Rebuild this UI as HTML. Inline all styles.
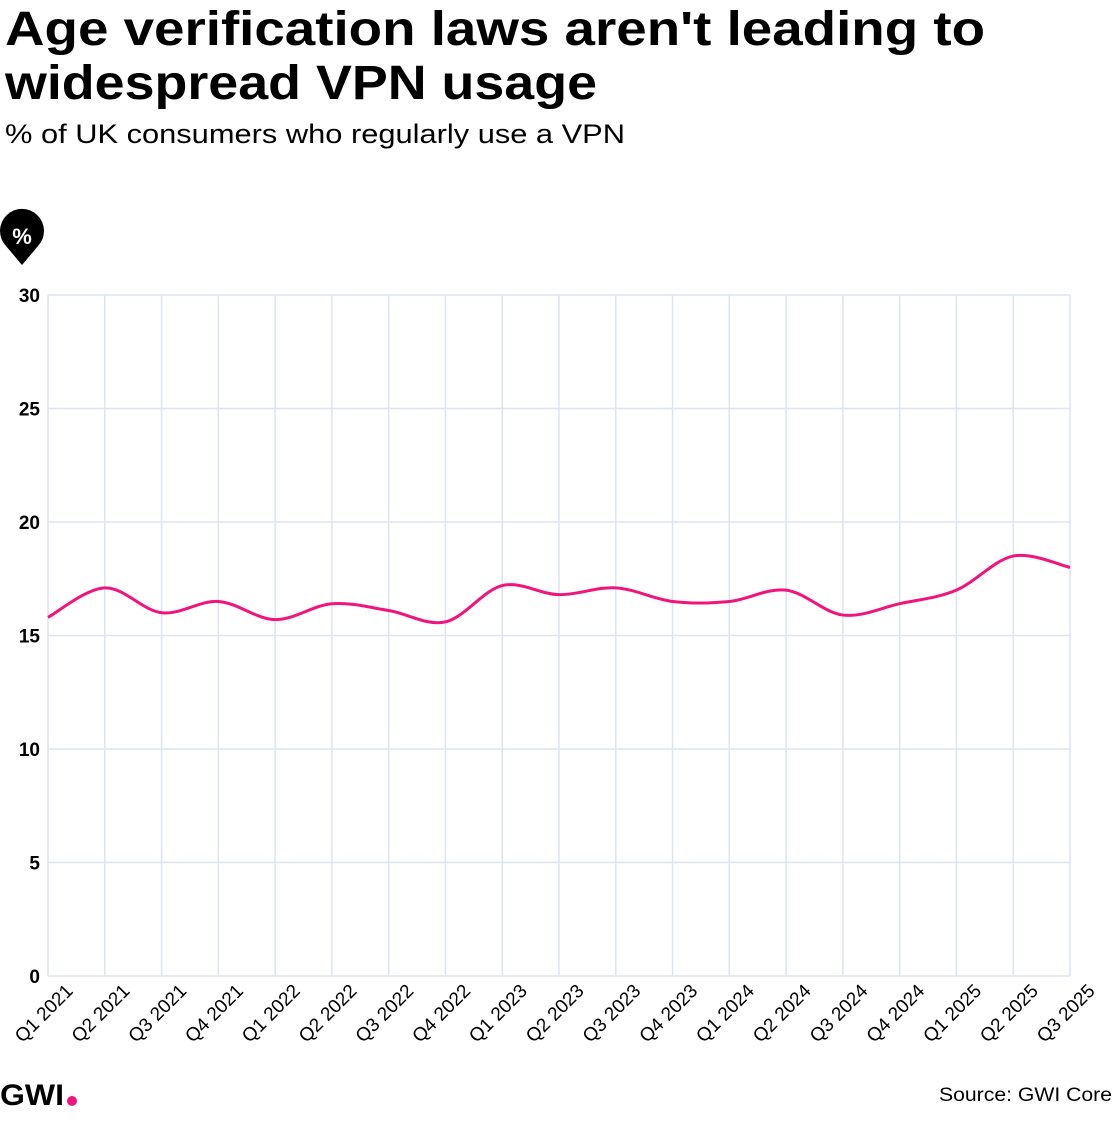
<!DOCTYPE html>
<html><head><meta charset="utf-8"><style>
body{margin:0;background:#fff;width:1120px;height:1120px;overflow:hidden;font-family:"Liberation Sans",sans-serif}
</style></head><body>
<svg width="1120" height="1120" xmlns="http://www.w3.org/2000/svg" font-family="Liberation Sans, sans-serif">
<text x="5" y="45" font-size="48" font-weight="bold" fill="#000" textLength="980" lengthAdjust="spacingAndGlyphs">Age verification laws aren't leading to</text>
<text x="5" y="99" font-size="48" font-weight="bold" fill="#000" textLength="592" lengthAdjust="spacingAndGlyphs">widespread VPN usage</text>
<text x="5" y="143" font-size="27" fill="#000" textLength="620" lengthAdjust="spacingAndGlyphs">% of UK consumers who regularly use a VPN</text>
<path d="M22,265 L6,246 A22,22 0 1 1 38,246 Z" fill="#000"/>
<text x="22" y="244" font-size="22" font-weight="bold" fill="#fff" text-anchor="middle">%</text>
<g id="grid" stroke="#dde3f2" stroke-width="1.5" fill="none"></g>
<g id="ylab" font-size="19" font-weight="bold" text-anchor="end"></g>
<g id="xlab" font-size="19"></g>
<path id="line" fill="none" stroke="#f0147c" stroke-width="3"/>
<text x="0" y="1105" font-size="30" font-weight="bold" textLength="64" lengthAdjust="spacingAndGlyphs">GWI</text>
<circle cx="72" cy="1101" r="5" fill="#f0147c"/>
<text x="1112" y="1101" font-size="19" text-anchor="end" textLength="173" lengthAdjust="spacingAndGlyphs">Source: GWI Core</text>
</svg>
<script>
var ns="http://www.w3.org/2000/svg";
var x0=48,x1=1070,y0=976,yt=295,n=19,st=(x1-x0)/18;
function Y(v){return y0-(y0-yt)*v/30}
var g=document.getElementById('grid'),yl=document.getElementById('ylab'),xl=document.getElementById('xlab');
var d="";
for(var v=0;v<=30;v+=5){d+="M"+x0+","+Y(v)+"H"+x1;var t=document.createElementNS(ns,'text');t.setAttribute('x',40);t.setAttribute('y',Y(v)+7);t.textContent=v;yl.appendChild(t);}
var q=["Q1","Q2","Q3","Q4"];
for(var i=0;i<n;i++){var x=x0+i*st;d+="M"+x+","+yt+"V"+y0;
var t=document.createElementNS(ns,'text');var lx=x+26,ly=992;t.setAttribute('x',lx);t.setAttribute('y',ly);t.setAttribute('text-anchor','end');t.setAttribute('transform','rotate(-45 '+lx+' '+ly+')');t.textContent=q[i%4]+" "+(2021+Math.floor(i/4));xl.appendChild(t);}
var p=document.createElementNS(ns,'path');p.setAttribute('d',d);g.appendChild(p);
var vals=[15.8,17.1,16.0,16.5,15.7,16.4,16.1,15.6,17.2,16.8,17.1,16.5,16.5,17.0,15.9,16.4,17.0,18.5,18.0];
var P=vals.map(function(v,i){return[x0+i*st,Y(v)]});
var s="M"+P[0][0]+","+P[0][1];
for(var i=0;i<P.length-1;i++){var a=P[Math.max(i-1,0)],b=P[i],c=P[i+1],e=P[Math.min(i+2,P.length-1)];
var c1=[b[0]+(c[0]-a[0])/6,b[1]+(c[1]-a[1])/6],c2=[c[0]-(e[0]-b[0])/6,c[1]-(e[1]-b[1])/6];
s+="C"+c1+" "+c2+" "+c;}
document.getElementById('line').setAttribute('d',s);
</script>
</body></html>
